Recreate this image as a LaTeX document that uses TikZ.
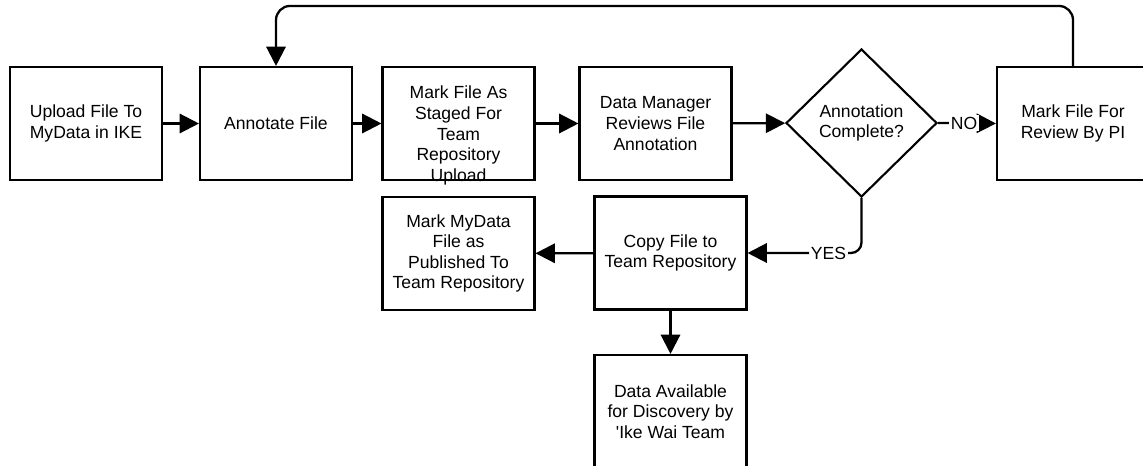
\documentclass[tikz,border=0pt]{standalone}
\usepackage{fontspec}
\setmainfont{Liberation Sans}
\usetikzlibrary{calc,positioning,arrows.meta,shapes.geometric}

\begin{document}
\begin{tikzpicture}[
  x=0.02cm, y=-0.02cm,
  font=\fontsize{10pt}{11.7pt}\selectfont,
  box/.style={rectangle,draw=black,line width=1.2pt,minimum width=3.04cm,minimum height=2.26cm,align=center,inner sep=0pt},
  decision/.style={diamond,draw=black,line width=1.2pt,minimum width=3.02cm,minimum height=2.96cm,align=center,inner sep=0pt},
  flow/.style={-{Triangle[length=11pt,width=11pt]},line width=1.3pt},
  answer/.style={fill=white,inner sep=1pt},
  ]
  \useasboundingbox (0,0) rectangle (1143,466);

  %top row
  \foreach \n/\x/\t in {upload/86/{Upload File To\\MyData in IKE},
                        annotate/276/{Annotate File},
                        dmreview/655.5/{Data Manager\\Reviews File\\Annotation},
                        pireview/1073/{Mark File For\\Review By PI}}
   {
     \node (\n) [box] at (\x,123.5) {\t};
   }

   %staged box, text hangs low
   \node (staged) [box] at (458.5,123.5) {};
   \node (staged_txt) [align=center,inner sep=0pt] at ($(staged)+(0,12)$) {Mark File As\\Staged For\\Team\\Repository\\Upload};

   %decision
   \node (check) [decision] at (861.5,123) {Annotation\\Complete?};

   %bottom part
   \node (copy) [box] at (670.5,253) {Copy File to\\Team Repository};
   \node (publish) [box] at (458.5,253.5) {Mark MyData\\File as\\Published To\\Team Repository};
   \node (avail) [box] at (670.5,411.5) {Data Available\\for Discovery by\\\textquotesingle Ike Wai Team};

   %arrows
   \draw[flow] (upload) -- (annotate);
   \draw[flow] (annotate) -- (staged);
   \draw[flow] (staged) -- (dmreview);
   \draw[flow] (dmreview) -- (check);
   \draw[flow] (check.east) -- node[answer,pos=0.45] {NO} (pireview.west);
   \draw[flow,rounded corners=6pt] (check.south) |- node[answer,pos=0.645] {YES} (copy.east);
   \draw[flow] (copy) -- (publish);
   \draw[flow] (copy) -- (avail);

   %loop back
   \draw[flow,rounded corners=8pt] (pireview.north) -- ++(0,-60) -| (annotate.north);

\end{tikzpicture}
\end{document}
